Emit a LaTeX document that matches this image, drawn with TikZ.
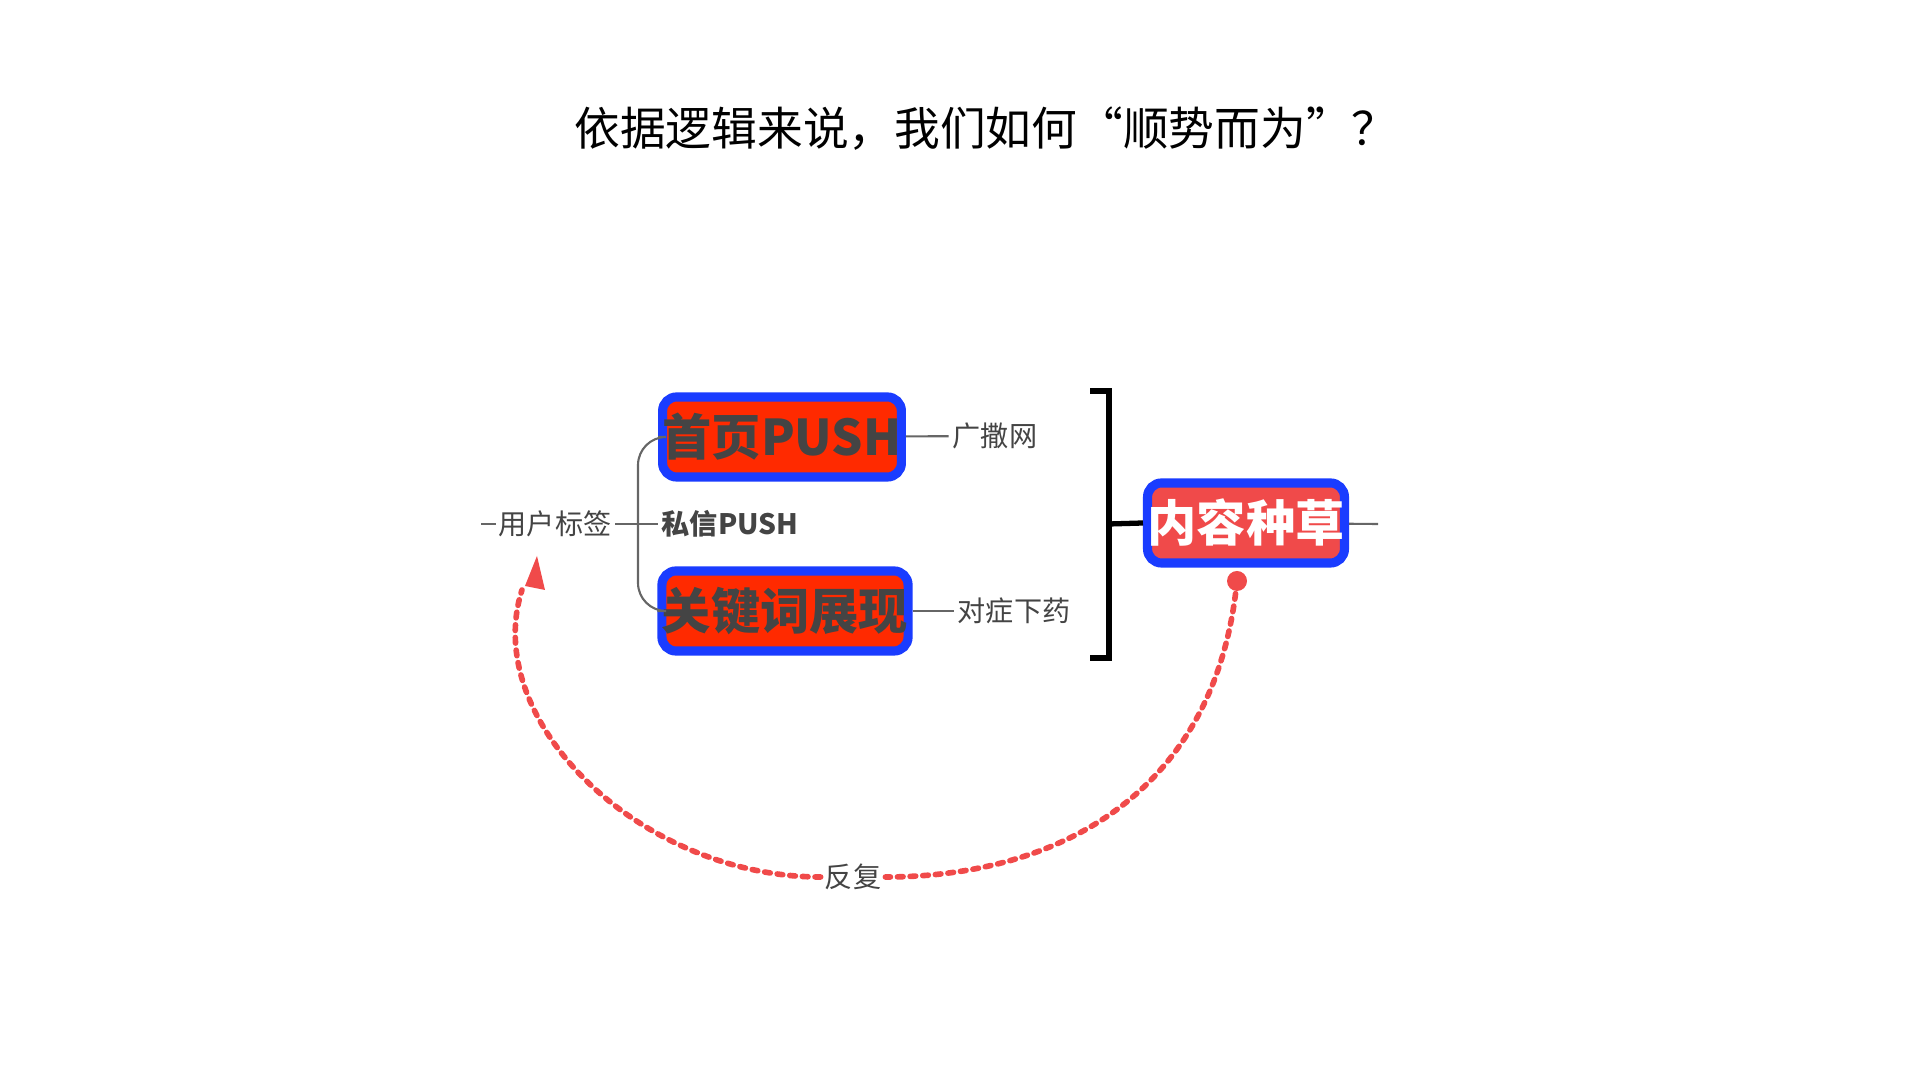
\documentclass[tikz,border=0pt]{standalone}
\usepackage{fontspec}
\setmainfont{Noto Sans CJK SC}
\usepackage{tikz}
\usetikzlibrary{arrows.meta, positioning}
\definecolor{boxred}{HTML}{FF2A00}
\definecolor{boxblue}{HTML}{1A3CFF}
\definecolor{softred}{HTML}{F04A4A}
\definecolor{textgray}{HTML}{444444}
\tikzset{
  redbox/.style={draw=boxblue, line width=2.6pt, fill=boxred, rounded corners=4pt,
    minimum width=2.3cm, minimum height=0.8cm, inner sep=0pt,
    font=\fontsize{14}{16}\selectfont\bfseries, text=textgray},
  seedbox/.style={redbox, fill=softred, text=white, minimum width=1.92cm},
  smalllabel/.style={font=\fontsize{8}{10}\selectfont, text=textgray, inner sep=1pt},
  branch/.style={draw=gray!80!black, line width=0.6pt},
  loopline/.style={draw=softred, line width=1.6pt, dotted, line cap=round}
}
\begin{document}
\begin{tikzpicture}[x=0.01cm, y=-0.01cm]
            \useasboundingbox (0,0) rectangle (1920,1080);
            \node[font=\fontsize{13}{15}\selectfont] at (986,129) (title) {依据逻辑来说，我们如何“顺势而为”？};

            \node[redbox]  at (782,437)  (push) {首页PUSH};
            \node[redbox, minimum width=2.45cm] at (785,611) (keyword) {关键词展现};
            \node[seedbox] at (1246,523) (seed) {内容种草};

            \node[smalllabel] at (555,524)  (tag) {用户标签};
            \node[smalllabel, font=\fontsize{8}{10}\selectfont\bfseries] at (730,524) (msg) {私信PUSH};
            \node[smalllabel] at (995,436)  (wide) {广撒网};
            \node[smalllabel] at (1014,611) (cure) {对症下药};
            \node[smalllabel, font=\fontsize{8}{10}\selectfont\itshape] at (853,877) (repeat) {反复};

            \coordinate (tagin) at (481,524);
            \coordinate (seedout) at (1378,524);
            \coordinate (fork) at (638,524);
            \coordinate (tip) at (537,556);
            \coordinate (dot) at (1237,581);

            % tree
            \draw[branch] (tagin) -- ++(15,0);
            \draw[branch] (tag) -- (msg);
            \draw[branch, rounded corners=8pt] (push.west) -| (fork) |- (keyword.west);
            \draw[branch] (push) -- (wide);
            \draw[branch] (keyword) -- (cure);
            \draw[branch] (seed) -- (seedout);

            % bracket
            \draw[black, line width=1.5pt] (1090,391) -- (1109,391) -- (1109,658) -- (1090,658);
            \draw[black, line width=1.5pt] (1109,524) -- (seed.west);

            % loop
            \fill[softred] (dot) circle (10);
            \draw[loopline] (dot) .. controls (1215,800) and (1050,877) .. (repeat.east);
            \draw[loopline] (repeat.west) .. controls (640,877) and (480,720) .. (522,590);
            \fill[softred] (tip) -- ++(-12,30) -- ++(20,4) -- cycle;
        \end{tikzpicture}
\end{document}
